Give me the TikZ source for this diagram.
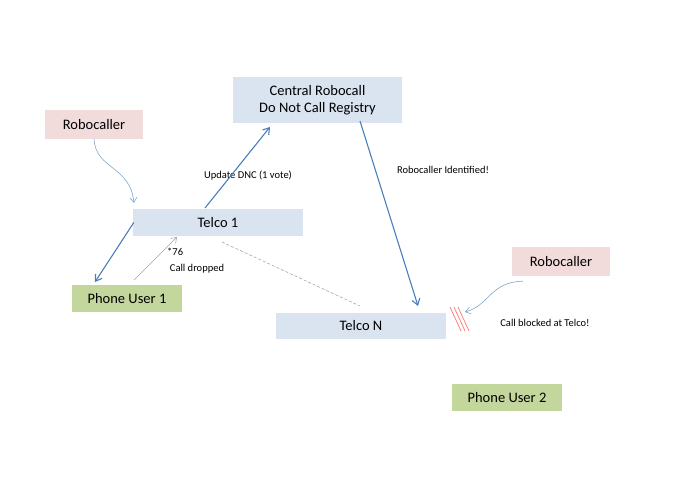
\documentclass[tikz,border=0pt]{standalone}
\usepackage{fontspec}
\setmainfont{Carlito}
\usetikzlibrary{arrows.meta}
\definecolor{bluebox}{HTML}{DAE3F0}
\definecolor{redbox}{HTML}{F2DCDB}
\definecolor{greenbox}{HTML}{C3D69B}
\definecolor{arr}{HTML}{4A7EBB}
\tikzset{
 box/.style={inner sep=0pt,font=\fontsize{14.5}{16.5}\selectfont,align=center},
 lbl/.style={font=\fontsize{10.5}{12}\selectfont,inner sep=0pt},
 main/.style={draw=arr,line width=1.1pt,-{Straight Barb[length=6pt,width=8pt]}},
 thin/.style={draw=arr!70,line width=0.6pt,-{Straight Barb[length=5pt,width=7pt]}},
}
\begin{document}
\begin{tikzpicture}[x=1pt,y=-1pt]
\useasboundingbox (0,0) rectangle (695,494);
\node[box,fill=bluebox,minimum width=169pt,minimum height=46pt] (central) at (317.5,100) {Central Robocall\\Do Not Call Registry};
\node[box,fill=redbox,minimum width=98pt,minimum height=29pt] (rc1) at (94,124.5) {Robocaller};
\node[box,fill=bluebox,minimum width=170pt,minimum height=27pt] (t1) at (218,222.5) {Telco 1};
\node[box,fill=greenbox,minimum width=110pt,minimum height=27pt] (pu1) at (127,298.5) {Phone User 1};
\node[box,fill=bluebox,minimum width=170pt,minimum height=26pt] (tn) at (361,326) {Telco N};
\node[box,fill=redbox,minimum width=98pt,minimum height=29pt] (rc2) at (561,261.5) {Robocaller};
\node[box,fill=greenbox,minimum width=110pt,minimum height=27pt] (pu2) at (507,397.5) {Phone User 2};
\coordinate (blk) at (465,312);
\node[lbl] (l1) at (248,176) {Update DNC (1 vote)};
\node[lbl,anchor=west] (l2) at (167,252) {*76};
\node[lbl] (l3) at (197,269) {Call dropped};
\node[lbl] (l4) at (443,170) {Robocaller Identified!};
\node[lbl] (l5) at (545,323) {Call blocked at Telco!};
\draw[main] (t1.west) ++(1,0) -- (95,282);
\draw[main] (205,208) -- (270,127);
\draw[main] (360,121) -- (418,306);
\draw[thin,draw=gray!70] (134,280) -- (177,237);
\draw[thin] (rc1.south) .. controls (96,170) and (130,165) .. (134,203);
\draw[thin] (rc2.south west) ++(11,5) .. controls (490,282) and (490,305) .. (blk);
\draw[gray!70,dash pattern=on 3pt off 2pt,line width=0.6pt] (222,242) -- (360,306);
\foreach \d in {0,4,8} \draw[red!50!white,line width=0.8pt] (450+\d,307) -- (461+\d,331);
\end{tikzpicture}
\end{document}
